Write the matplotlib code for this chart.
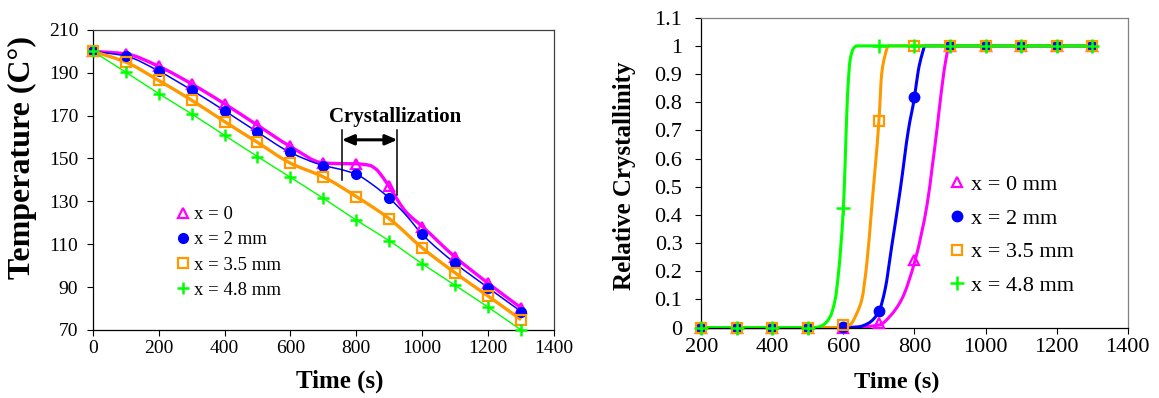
import numpy as np
import matplotlib
matplotlib.use("Agg")
import matplotlib.pyplot as plt
from matplotlib.path import Path
from matplotlib.patches import PathPatch
from matplotlib.lines import Line2D

plt.rcParams['font.family'] = ['Liberation Serif', 'DejaVu Serif']
plt.rcParams['mathtext.fontset'] = 'stix'

# ---------------- data: temperature (left) ----------------
t_temp = [0, 100, 200, 300, 400, 500, 600, 700, 800, 900, 1000, 1100, 1200, 1300]
T_x0 = [200, 198.8, 193, 184.8, 175.5, 165.5, 155.6, 148.1, 147.5, 137.3, 117.9, 104, 91.8, 80.3]
T_x2 = [200, 197.8, 190.8, 181.9, 172.3, 162.3, 152.8, 146.7, 142.6, 131.5, 114.6, 101.1, 89.7, 78.6]
T_x35 = [200, 195, 186.4, 177.2, 167.2, 157.5, 147.8, 141.4, 132.2, 121.9, 108.3, 96.6, 85.8, 74.8]
T_x48 = [200, 190.3, 180.3, 170.8, 160.8, 150.9, 141.2, 131.4, 121.2, 111.6, 100.9, 90.8, 80.6, 70.0]

# traced curve (line) values
tc_x0 = [0, 100, 200, 300, 400, 500, 600, 700, 750, 800, 840, 860, 880, 900, 950, 1000, 1100, 1200, 1300]
Tc_x0 = [200, 198.8, 193, 184.8, 175.5, 165.5, 155.6, 147.9, 147.6, 147.5, 146.8, 145.0, 141.3, 136.8, 125.2, 118.3, 104, 91.8, 80.3]
tc_x2 = [0, 100, 200, 300, 400, 500, 600, 700, 750, 800, 850, 900, 950, 1000, 1100, 1200, 1300]
Tc_x2 = [200, 197.8, 190.8, 181.9, 172.3, 162.3, 152.8, 146.7, 145.0, 142.6, 137.7, 131.5, 123.7, 114.6, 101.1, 89.7, 78.6]

# ---------------- data: relative crystallinity (right) ----------------
t_cry = [200, 300, 400, 500, 600, 700, 800, 900, 1000, 1100, 1200, 1300]
C_x0 = [0, 0, 0, 0, 0, 0.015, 0.24, 1, 1, 1, 1, 1]
C_x2 = [0, 0, 0, 0, 0.003, 0.057, 0.817, 1, 1, 1, 1, 1]
C_x35 = [0, 0, 0, 0, 0.008, 0.733, 1, 1, 1, 1, 1, 1]
C_x48 = [0, 0, 0, 0, 0.424, 1, 1, 1, 1, 1, 1, 1]

tc0 = [188, 600, 650, 703, 731, 764, 802, 836, 851, 863, 874, 887, 898, 1315]
cc0 = [0, 0, 0.002, 0.01, 0.04, 0.10, 0.24, 0.44, 0.58, 0.70, 0.82, 0.94, 1.0, 1.0]
tc2 = [188, 600, 640, 670, 700, 717, 736, 760, 783, 800, 811, 821, 830, 1315]
cc2 = [0, 0, 0.002, 0.015, 0.057, 0.133, 0.288, 0.489, 0.702, 0.817, 0.914, 0.968, 1.0, 1.0]
tc35 = [188, 590, 619, 638, 652, 666, 680, 700, 708, 716, 727, 1315]
cc35 = [0, 0, 0.01, 0.051, 0.10, 0.228, 0.43, 0.733, 0.903, 0.96, 1.0, 1.0]
tc48 = [188, 520, 544, 563, 577, 586, 600, 605, 611.5, 619, 628, 638, 1315]
cc48 = [0, 0, 0.01, 0.039, 0.10, 0.19, 0.424, 0.583, 0.82, 0.95, 0.99, 1.0, 1.0]

labels_left = ['x = 0', 'x = 2 mm', 'x = 3.5 mm', 'x = 4.8 mm']
labels_right = ['x = 0 mm', 'x = 2 mm', 'x = 3.5 mm', 'x = 4.8 mm']

MAG = '#FF00FF'
BLU = '#0000FF'
ORA = '#FF9900'
GRN = '#00FF00'


def smooth_path(x, y):
    """Monotone cubic (Hermite) curve through the points, as a Bezier path."""
    x = np.asarray(x, float)
    y = np.asarray(y, float)
    h = np.diff(x)
    d = np.diff(y) / h
    n = len(x)
    m = np.zeros(n)
    m[0] = d[0]
    m[-1] = d[-1]
    for k in range(1, n - 1):
        if d[k - 1] * d[k] <= 0:
            m[k] = 0.0
        else:
            w1 = 2 * h[k] + h[k - 1]
            w2 = h[k] + 2 * h[k - 1]
            m[k] = (w1 + w2) / (w1 / d[k - 1] + w2 / d[k])
    verts = [(x[0], y[0])]
    codes = [Path.MOVETO]
    for k in range(n - 1):
        verts += [(x[k] + h[k] / 3, y[k] + m[k] * h[k] / 3),
                  (x[k + 1] - h[k] / 3, y[k + 1] - m[k + 1] * h[k] / 3),
                  (x[k + 1], y[k + 1])]
        codes += [Path.CURVE4] * 3
    return Path(verts, codes)


def add_curve(ax, x, y, color, lw, clip=True):
    p = PathPatch(smooth_path(x, y), fill=False, edgecolor=color, lw=lw,
                  capstyle='butt', joinstyle='round', zorder=2)
    p.set_clip_on(clip)
    ax.add_patch(p)


fig = plt.figure(figsize=(11.59, 3.98), dpi=100)
ax1 = fig.add_axes([0.080, 0.171, 0.398, 0.754])
ax2 = fig.add_axes([0.605, 0.177, 0.368, 0.7785])

mk = {
    0: dict(marker='^', ms=6.5, mfc='none', mec=MAG, mew=1.6, color=MAG),
    1: dict(marker='o', ms=7, mfc=BLU, mec=BLU, mew=1, color=BLU),
    2: dict(marker='s', ms=6.5, mfc='none', mec=ORA, mew=1.6, color=ORA),
    3: dict(marker='+', ms=9, mec=GRN, mew=1.8, color=GRN),
}

# ---------- left chart ----------
add_curve(ax1, tc_x0, Tc_x0, MAG, 2.4)
add_curve(ax1, tc_x2, Tc_x2, BLU, 1.1)
add_curve(ax1, t_temp, T_x35, ORA, 2.4)
add_curve(ax1, t_temp, T_x48, GRN, 1.0)
for i, yv in enumerate([T_x0, T_x2, T_x35, T_x48]):
    ax1.plot(t_temp, yv, linestyle='none', zorder=3 + i, clip_on=False, **mk[i])

ax1.set_xlim(0, 1400)
ax1.set_ylim(70, 210)
ax1.set_xticks(np.arange(0, 1401, 200))
ax1.set_yticks(np.arange(70, 211, 20))
ax1.tick_params(direction='out', length=4.5, width=0.8, labelsize=14, pad=3, colors='black')
ax1.tick_params(axis='y', pad=6)
ax1.set_xlabel('Time (s)', fontsize=18, fontweight='bold')
ax1.set_ylabel('Temperature (C°)', fontsize=23, fontweight='bold')
ax1.xaxis.label.set_va('center')
ax1.yaxis.label.set_va('center')
ax1.xaxis.set_label_coords(0.536, -0.172)
ax1.yaxis.set_label_coords(-0.153, 0.573)
for s in ['left', 'bottom']:
    ax1.spines[s].set_linewidth(0.9)
for s in ['top', 'right']:
    ax1.spines[s].set_linewidth(0.9)
    ax1.spines[s].set_color('#404040')

# crystallization annotation
cx_lo, cx_hi = 756, 925
ax1.plot([cx_lo, cx_lo], [140, 163.3], color='black', lw=1.1, zorder=6)
ax1.plot([cx_hi, cx_hi], [133, 163.3], color='black', lw=1.1, zorder=6)
ax1.annotate('', xy=(cx_hi, 158.7), xytext=(cx_lo, 158.7),
             arrowprops=dict(arrowstyle='<|-|>,head_length=0.7,head_width=0.3',
                             color='black', lw=2.2, shrinkA=0, shrinkB=0), zorder=6)
ax1.text(917, 169.5, 'Crystallization', fontsize=15, fontweight='bold',
         ha='center', va='center')

h1 = [Line2D([], [], linestyle='none', **mk[i]) for i in range(4)]
ax1.legend(h1, labels_left, loc='upper left', bbox_to_anchor=(0.184, 0.413),
           frameon=False, fontsize=13.5, handlelength=0.6, handletextpad=0.3,
           labelspacing=0.43, borderpad=0, borderaxespad=0)

# ---------- right chart ----------
add_curve(ax2, tc0, cc0, MAG, 2.2, clip=False)
add_curve(ax2, tc2, cc2, BLU, 2.2, clip=False)
add_curve(ax2, tc35, cc35, ORA, 2.2, clip=False)
add_curve(ax2, tc48, cc48, GRN, 2.2, clip=False)
mk2 = {
    0: dict(marker='^', ms=7, mfc='none', mec=MAG, mew=1.6, color=MAG),
    1: dict(marker='o', ms=7.5, mfc=BLU, mec=BLU, mew=1, color=BLU),
    2: dict(marker='s', ms=7, mfc='none', mec=ORA, mew=1.6, color=ORA),
    3: dict(marker='+', ms=10, mec=GRN, mew=1.8, color=GRN),
}
for i, yv in enumerate([C_x0, C_x2, C_x35, C_x48]):
    ax2.plot(t_cry, yv, linestyle='none', zorder=3 + i, clip_on=False, **mk2[i])

ax2.set_xlim(200, 1400)
ax2.set_ylim(0, 1.1)
ax2.set_xticks(np.arange(200, 1401, 200))
yt = np.round(np.arange(0, 1.101, 0.1), 1)
ax2.set_yticks(yt)
ax2.set_yticklabels(['0' if v == 0 else ('1' if v == 1 else f'{v:g}') for v in yt])
ax2.tick_params(direction='out', length=4.5, width=0.8, labelsize=16, pad=3)
ax2.tick_params(axis='y', pad=9)
ax2.set_xlabel('Time (s)', fontsize=17.5, fontweight='bold')
ax2.set_ylabel('Relative Crystallinity', fontsize=18, fontweight='bold')
ax2.xaxis.label.set_va('center')
ax2.yaxis.label.set_va('center')
ax2.xaxis.set_label_coords(0.459, -0.178)
ax2.yaxis.set_label_coords(-0.18, 0.489)
for s in ['left', 'bottom']:
    ax2.spines[s].set_linewidth(0.9)
for s in ['top', 'right']:
    ax2.spines[s].set_linewidth(0.9)
    ax2.spines[s].set_color('#808080')

h2 = [Line2D([], [], linestyle='none', **mk2[i]) for i in range(4)]
ax2.legend(h2, labels_right, loc='upper left', bbox_to_anchor=(0.585, 0.494),
           frameon=False, fontsize=16, handlelength=0.6, handletextpad=0.3,
           labelspacing=0.59, borderpad=0, borderaxespad=0)

fig.savefig('out.png', dpi=100)
